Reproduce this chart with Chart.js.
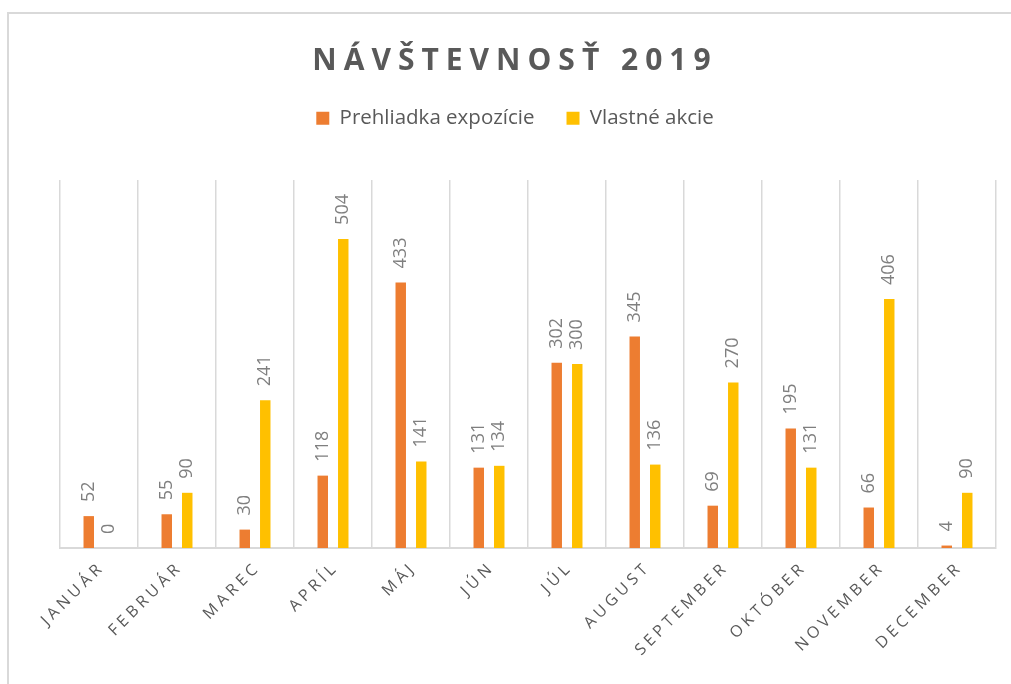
<!DOCTYPE html>
<html>
<head>
<meta charset="utf-8">
<script src="https://cdn.jsdelivr.net/npm/chart.js@4.4.1/dist/chart.umd.min.js"></script>
<style>
  html, body { margin: 0; padding: 0; background: #ffffff; }
  #wrap { width: 1011px; height: 684px; position: relative; }
</style>
</head>
<body>
<div id="wrap"><canvas id="c" width="1011" height="684"></canvas></div>
<script>
const categories = ['JANUÁR','FEBRUÁR','MAREC','APRÍL','MÁJ','JÚN','JÚL','AUGUST','SEPTEMBER','OKTÓBER','NOVEMBER','DECEMBER'];
const prehliadka = [52, 55, 30, 118, 433, 131, 302, 345, 69, 195, 66, 4];
const vlastne = [0, 90, 241, 504, 141, 134, 300, 136, 270, 131, 406, 90];
const seriesNames = ['Prehliadka expozície', 'Vlastné akcie'];
const chartTitle = 'NÁVŠTEVNOSŤ 2019';

const FONT = '"Open Sans"';
const TITLE_SPACING = '7px';
const X_SPACING = '4px';

const framePlugin = {
  id: 'frame',
  beforeDraw(chart) {
    const c = chart.ctx;
    c.save();
    c.strokeStyle = '#d9d9d9';
    c.lineWidth = 2;
    c.strokeRect(8, 13, 1200, 1000);
    c.restore();
  }
};

const spacingPlugin = {
  id: 'spacing',
  afterUpdate(chart) {
    const tb = chart.titleBlock;
    if (tb && !tb._spaced) {
      const orig = tb.draw;
      tb.draw = function () {
        const c = this.ctx; c.save(); c.letterSpacing = TITLE_SPACING;
        orig.apply(this, arguments); c.restore();
      };
      tb._spaced = true;
    }
    const xs = chart.scales.x;
    if (xs && !xs._spaced) {
      const o = xs.drawLabels;
      xs.drawLabels = function () {
        const c = this.ctx; c.save(); c.letterSpacing = X_SPACING;
        o.apply(this, arguments); c.restore();
      };
      xs._spaced = true;
    }
  }
};

const valueLabels = {
  id: 'valueLabels',
  afterDatasetsDraw(chart) {
    const c = chart.ctx;
    c.save();
    c.fillStyle = '#7f7f7f';
    c.font = '18px ' + FONT;
    c.textAlign = 'left';
    c.textBaseline = 'middle';
    chart.data.datasets.forEach((ds, di) => {
      const meta = chart.getDatasetMeta(di);
      meta.data.forEach((el, i) => {
        c.save();
        c.translate(el.x, el.y - 14);
        c.rotate(-Math.PI / 2);
        c.fillText(String(ds.data[i]), 0, 0);
        c.restore();
      });
    });
    c.restore();
  }
};

new Chart(document.getElementById('c'), {
  type: 'bar',
  data: {
    labels: categories,
    datasets: [
      { label: seriesNames[0], data: prehliadka, backgroundColor: '#ED7D31', barPercentage: 0.51, categoryPercentage: 0.526 },
      { label: seriesNames[1], data: vlastne, backgroundColor: '#FFC000', barPercentage: 0.51, categoryPercentage: 0.526 }
    ]
  },
  options: {
    responsive: false,
    animation: false,
    devicePixelRatio: 1,
    layout: { padding: { left: 19, right: 0, top: 0, bottom: 0 } },
    plugins: {
      tooltip: { enabled: false },
      title: {
        display: true,
        text: chartTitle,
        color: '#595959',
        font: { family: FONT, size: 30, weight: 'bold', lineHeight: 1 },
        padding: { top: 46, bottom: 0 }
      },
      legend: {
        display: true,
        position: 'top',
        labels: {
          color: '#595959',
          font: { family: FONT, size: 20.5 },
          boxWidth: 13,
          boxHeight: 13,
          padding: 32
        }
      },
      subtitle: {
        display: true,
        text: '',
        weight: 100,
        font: { size: 12, lineHeight: 1.2 },
        padding: { top: 13.5, bottom: 13.6 }
      }
    },
    scales: {
      x: {
        grid: { display: true, offset: true, color: '#d9d9d9', lineWidth: 1.5, drawTicks: false },
        border: { display: true, color: '#d9d9d9', width: 2 },
        ticks: {
          color: '#595959',
          font: { family: FONT, size: 16 },
          minRotation: 45,
          maxRotation: 45,
          autoSkip: false,
          padding: 10,
          labelOffset: 3
        },
        afterFit(scale) { scale.height = 136; }
      },
      y: {
        display: true,
        min: 0,
        max: 600,
        grid: { display: false },
        border: { display: false },
        ticks: { display: false },
        afterFit(scale) { scale.width = 41; }
      },
      y2: {
        display: true,
        position: 'right',
        grid: { display: false },
        border: { display: false },
        ticks: { display: false },
        afterFit(scale) { scale.width = 15; }
      }
    }
  },
  plugins: [framePlugin, spacingPlugin, valueLabels]
});
</script>
</body>
</html>
